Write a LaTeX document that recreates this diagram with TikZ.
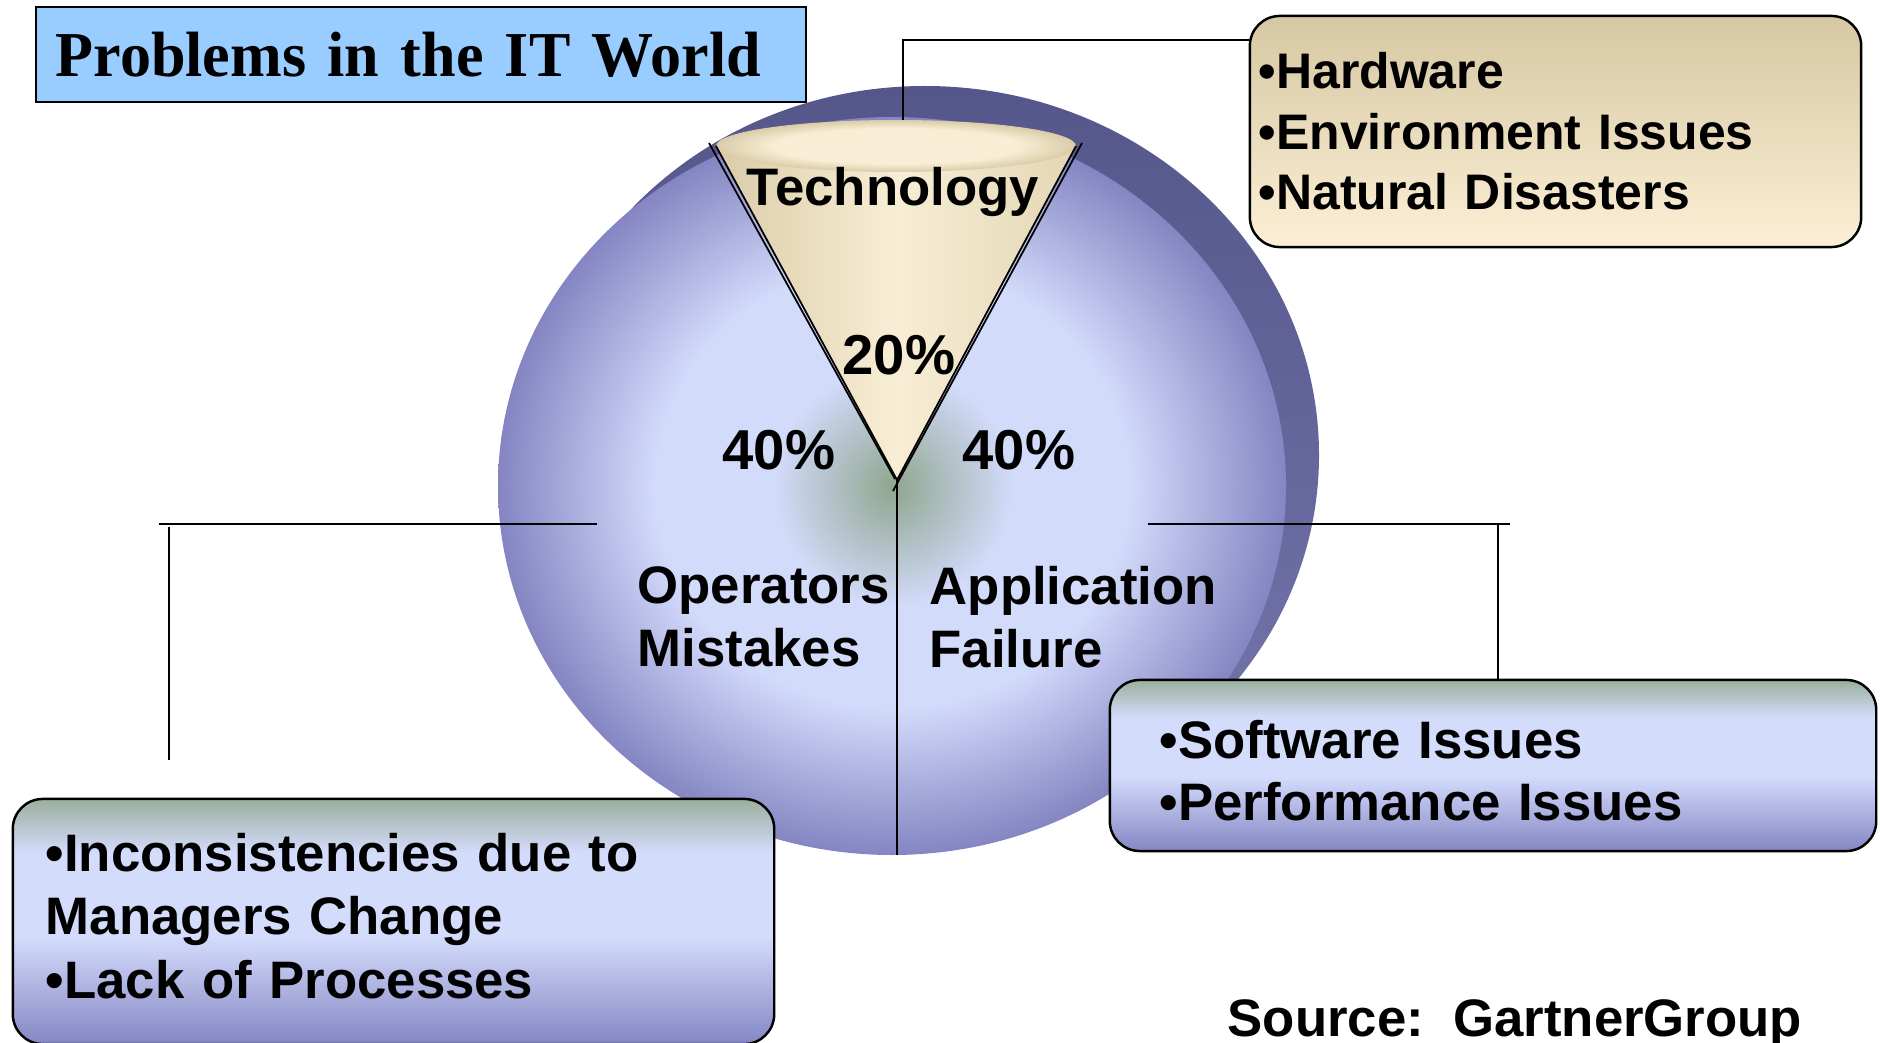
\documentclass[tikz,border=0pt]{standalone}
\usepackage{fontspec}
\setmainfont{Liberation Sans}
\newfontfamily\titlefont[FakeStretch=0.97]{Liberation Serif}
\usepackage{tikz}
\usepackage{xcolor}

\definecolor{titleBlue}{HTML}{99CCFF}
\definecolor{hwTop}{HTML}{D6C8A3}
\definecolor{hwBottom}{HTML}{FCEFD5}
\definecolor{boxGreen}{HTML}{9AAF9D}
\definecolor{boxLight}{HTML}{D4DCFC}
\definecolor{boxDark}{HTML}{8486C3}
\definecolor{pieLight}{HTML}{D3DBFB}
\definecolor{pieEdge}{HTML}{8485C2}
\definecolor{rimDark}{HTML}{55568A}
\definecolor{rimLight}{HTML}{7577AE}
\definecolor{wedgeLight}{HTML}{F8EED5}
\definecolor{wedgeEdge}{HTML}{DACCA8}
\definecolor{glowGreen}{HTML}{8FA68F}

\pgfdeclareradialshading{pie-face}{\pgfpointorigin}{color(0bp)=(pieLight); color(15bp)=(pieLight); color(25bp)=(pieEdge); color(50bp)=(pieEdge)}
\pgfdeclareradialshading{wedge-top}{\pgfpointorigin}{color(0bp)=(wedgeLight); color(17bp)=(wedgeLight); color(25bp)=(wedgeEdge); color(50bp)=(wedgeEdge)}
\pgfdeclareverticalshading{blue-box}{100bp}{color(0bp)=(boxDark); color(25bp)=(boxDark); color(47bp)=(boxLight); color(64bp)=(boxLight); color(75bp)=(boxGreen); color(100bp)=(boxGreen)}

\tikzset{
    title-box/.style = {draw=black, fill=titleBlue, line width=0.7pt, rectangle, text width=7.3cm, align=left, inner xsep=0.2cm, inner ysep=0pt, minimum height=0.95cm, font=\titlefont\bfseries\fontsize{18.2}{20}\selectfont},
    rounded-box/.style = {draw=black, line width=0.7pt, rectangle, rounded corners=0.3cm, align=left, inner ysep=0pt},
    pie-label/.style = {inner sep=0pt, font=\bfseries\fontsize{15}{17.9}\selectfont},
    pct-label/.style = {inner sep=0pt, anchor=base, font=\bfseries\fontsize{16}{19}\selectfont},
    link/.style = {draw=black, line width=0.5pt},
}

\begin{document}
\begin{tikzpicture}[x=0.01cm, y=0.01cm]
\useasboundingbox (0,0) rectangle (1880,1042);

% pie body
\shade[top color=rimDark, bottom color=rimLight] (925,587) ellipse (394 and 369);
\shade[shading=pie-face] (892,556) ellipse (394 and 369);
\shade[inner color=glowGreen, outer color=pieLight] (893,555) circle (120);

% technology slice
\coordinate (wedge-left) at (716,896);
\coordinate (wedge-right) at (1076,896);
\coordinate (tip) at (897,562);
\coordinate (pie-bottom) at (897,187);
\shade[left color=wedgeEdge, right color=wedgeEdge!70!wedgeLight, middle color=wedgeLight] (wedge-left) -- (tip) -- (wedge-right) -- cycle;
\shade[shading=wedge-top] (896,896) ellipse (180 and 26);
\draw[link] (wedge-left) -- (tip) -- (wedge-right);
\draw[link] (709,899) -- (895,563);
\draw[link] (1082,899) -- (893,551);
\draw[link] (tip) -- (pie-bottom);

\node[pie-label, anchor=base] (tech-label) at (893,836) {Technology};
\node[pct-label] (tech-pct) at (899,667) {20\%};
\node[pct-label] (ops-pct) at (779,573) {40\%};
\node[pct-label] (app-pct) at (1019,573) {40\%};
\node[pie-label, anchor=north west, align=left] (ops-label) at (637,476) {Operators\\Mistakes};
\node[pie-label, anchor=north west, align=left] (app-label) at (929,476) {Application\\Failure};

% callout boxes
\node[rounded-box, top color=hwTop, bottom color=hwBottom, text width=5.93cm, inner xsep=0.09cm, minimum height=2.31cm, font=\bfseries\fontsize{14.2}{17.2}\selectfont] (hwbox) at (1555.5,910.5) {•Hardware\\•Environment Issues\\•Natural Disasters};
\node[rounded-box, shade, shading=blue-box, text width=6.66cm, inner xsep=0.5cm, minimum height=1.71cm, text height=0.4cm, text depth=0.55cm, font=\bfseries\fontsize{15}{17.9}\selectfont] (swbox) at (1493,276.5) {•Software Issues\\•Performance Issues};
\node[rounded-box, shade, shading=blue-box, text width=6.95cm, inner xsep=0.33cm, minimum height=2.45cm, text height=0.4cm, text depth=1.4cm, font=\bfseries\fontsize{15}{18}\selectfont] (opsbox) at (393.5,120.5) {•Inconsistencies due to\\Managers Change\\•Lack of Processes};

% connectors
\coordinate (tech-top) at (903,922);
\coordinate (tech-bend) at (903,1002);
\draw[link] (tech-top) -- (tech-bend) -- (tech-bend -| hwbox.west);
\coordinate (ops-a) at (159,518);
\coordinate (ops-b) at (597,518);
\coordinate (ops-c) at (169,515);
\coordinate (ops-d) at (169,282);
\draw[link] (ops-a) -- (ops-b);
\draw[link] (ops-c) -- (ops-d);
\coordinate (app-a) at (1148,518);
\coordinate (app-b) at (1510,518);
\coordinate (app-c) at (1498,518);
\draw[link] (app-a) -- (app-b);
\draw[link] (app-c) -- (app-c |- swbox.north);

\node[title-box] (title) at (421,987.5) {Problems in the IT World};
\node[pie-label, anchor=base west] (source) at (1227,6) {Source:\ \ GartnerGroup};
\end{tikzpicture}
\end{document}
